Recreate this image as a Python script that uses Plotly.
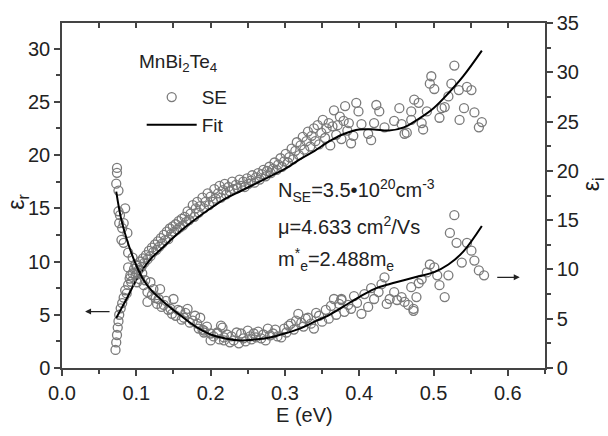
import plotly.graph_objects as go

# ---- Fit curves ----
E_fit_r = [0.073, 0.08, 0.09, 0.10, 0.11, 0.12, 0.14, 0.16, 0.18, 0.20, 0.22, 0.24, 0.26, 0.28, 0.30,
           0.32, 0.34, 0.36, 0.38, 0.40, 0.42, 0.44, 0.46, 0.48, 0.50, 0.52, 0.54, 0.565]
eps_r_fit = [4.7, 5.6, 6.9, 8.3, 9.4, 10.3, 11.6, 12.9, 14.0, 15.0, 15.9, 16.6, 17.3, 18.0, 18.7,
             19.6, 20.4, 21.3, 22.0, 22.4, 22.4, 22.3, 22.6, 23.4, 24.4, 25.8, 27.4, 29.8]

E_fit_i = [0.073, 0.08, 0.09, 0.10, 0.11, 0.12, 0.14, 0.16, 0.18, 0.20, 0.22, 0.24, 0.26, 0.28, 0.30,
           0.32, 0.34, 0.36, 0.38, 0.40, 0.42, 0.44, 0.46, 0.48, 0.50, 0.52, 0.54, 0.565]
eps_i_fit = [17.9, 15.0, 12.4, 10.4, 8.9, 7.9, 6.5, 5.3, 4.2, 3.4, 3.0, 2.8, 2.9, 3.1, 3.5,
             4.0, 4.7, 5.4, 6.3, 7.2, 8.0, 8.5, 8.9, 9.3, 9.7, 10.5, 11.8, 14.4]

# ---- SE data ----
E_se_r = [0.072, 0.073, 0.074, 0.075, 0.076, 0.077, 0.079, 0.081, 0.083, 0.085, 0.087, 0.089, 0.091, 0.093,
          0.095, 0.097, 0.099, 0.101, 0.103, 0.105, 0.107, 0.109, 0.111, 0.113, 0.115, 0.117, 0.119, 0.121,
          0.123, 0.125, 0.127, 0.129, 0.131, 0.133, 0.135, 0.137, 0.139, 0.141, 0.143, 0.145, 0.147, 0.149,
          0.151, 0.153, 0.155, 0.157, 0.159, 0.161, 0.163, 0.165, 0.167, 0.169, 0.171, 0.173, 0.176, 0.178,
          0.180, 0.182, 0.184, 0.186, 0.189, 0.191, 0.193, 0.196, 0.198, 0.200, 0.203, 0.205, 0.207, 0.210,
          0.212, 0.214, 0.217, 0.219, 0.221, 0.224, 0.226, 0.229, 0.231, 0.234, 0.236, 0.239, 0.241, 0.244,
          0.246, 0.249, 0.251, 0.254, 0.256, 0.259, 0.261, 0.264, 0.266, 0.269, 0.271, 0.274, 0.276, 0.279,
          0.281, 0.284, 0.286, 0.289, 0.291, 0.294, 0.296, 0.299, 0.301, 0.304, 0.306, 0.309, 0.311, 0.314,
          0.316, 0.319, 0.321, 0.324, 0.326, 0.329, 0.331, 0.334, 0.336, 0.339, 0.341, 0.344, 0.346, 0.349,
          0.351, 0.354, 0.356, 0.359, 0.361, 0.364, 0.366, 0.369, 0.371, 0.374, 0.376, 0.379, 0.381, 0.384,
          0.386, 0.389, 0.392, 0.396, 0.399, 0.403, 0.412, 0.416, 0.420, 0.423, 0.427, 0.434, 0.447, 0.454,
          0.457, 0.461, 0.464, 0.470, 0.470, 0.474, 0.480, 0.484, 0.486, 0.491, 0.495, 0.497, 0.501, 0.508,
          0.511, 0.515, 0.520, 0.524, 0.528, 0.534, 0.535, 0.541, 0.545, 0.551, 0.555, 0.561, 0.565]
eps_r_se = [1.7, 2.4, 3.1, 3.8, 4.4, 5.0, 5.6, 6.1, 6.6, 7.3, 7.0, 7.8, 8.4, 8.1,
            8.9, 9.3, 8.7, 9.6, 9.2, 10.0, 9.5, 10.3, 9.9, 10.6, 10.2, 11.0, 10.5, 11.3,
            10.9, 11.6, 11.1, 11.9, 11.4, 12.2, 11.7, 12.5, 12.0, 12.8, 12.1, 13.1, 12.6, 13.3,
            12.8, 13.5, 13.0, 13.8, 13.2, 14.0, 13.4, 14.2, 13.7, 14.7, 13.9, 14.5, 15.3, 14.2,
            15.0, 15.6, 14.6, 15.2, 16.0, 15.0, 15.6, 16.4, 15.3, 16.1, 15.6, 16.8, 15.9, 16.4,
            17.1, 16.0, 16.7, 17.3, 16.3, 17.0, 16.6, 17.5, 16.8, 17.2, 16.9, 17.7, 17.1, 17.5,
            17.0, 17.8, 17.3, 17.6, 18.1, 17.4, 17.9, 18.3, 17.7, 18.2, 18.6, 18.0, 18.5, 18.9,
            18.3, 18.7, 19.3, 18.6, 19.1, 19.7, 18.9, 19.4, 20.1, 19.3, 19.8, 20.6, 19.6, 20.4,
            21.2, 20.0, 20.9, 21.7, 20.5, 21.3, 22.2, 20.8, 21.8, 22.5, 21.3, 22.8, 21.0, 22.1,
            23.3, 21.6, 22.5, 23.0, 20.9, 22.7, 24.2, 21.9, 22.8, 23.6, 21.5, 23.2, 24.6, 22.3,
            23.0, 21.1, 21.8, 24.9, 24.1, 22.9, 22.0, 21.4, 23.0, 24.7, 24.1, 22.6, 23.2, 24.4,
            22.9, 22.0, 22.1, 24.1, 23.3, 25.2, 24.9, 23.0, 22.4, 24.1, 26.7, 27.4, 26.2, 23.5,
            24.4, 24.5, 25.5, 26.7, 28.4, 26.1, 23.3, 24.4, 26.4, 26.1, 24.0, 22.6, 23.1]

E_se_i = [0.073, 0.074, 0.074, 0.076, 0.076, 0.077, 0.078, 0.080, 0.081, 0.083, 0.083, 0.085, 0.088, 0.089,
          0.089, 0.092, 0.095, 0.099, 0.101, 0.101, 0.105, 0.108, 0.110, 0.112, 0.115, 0.115, 0.119, 0.121,
          0.123, 0.126, 0.128, 0.130, 0.132, 0.134, 0.137, 0.140, 0.143, 0.146, 0.148, 0.150, 0.153, 0.156,
          0.159, 0.161, 0.164, 0.166, 0.169, 0.172, 0.176, 0.179, 0.182, 0.184, 0.186, 0.189, 0.191, 0.191,
          0.195, 0.200, 0.200, 0.204, 0.209, 0.209, 0.212, 0.214, 0.216, 0.218, 0.218, 0.222, 0.226, 0.228,
          0.231, 0.235, 0.238, 0.241, 0.244, 0.247, 0.250, 0.253, 0.255, 0.258, 0.261, 0.264, 0.268, 0.271,
          0.274, 0.277, 0.280, 0.284, 0.287, 0.290, 0.295, 0.299, 0.302, 0.305, 0.308, 0.312, 0.315, 0.318,
          0.322, 0.325, 0.328, 0.331, 0.335, 0.339, 0.342, 0.346, 0.350, 0.355, 0.359, 0.362, 0.366, 0.369,
          0.373, 0.376, 0.376, 0.380, 0.385, 0.389, 0.393, 0.397, 0.403, 0.407, 0.412, 0.416, 0.420, 0.426,
          0.430, 0.434, 0.437, 0.441, 0.447, 0.451, 0.457, 0.461, 0.466, 0.470, 0.473, 0.473, 0.477, 0.480,
          0.484, 0.491, 0.495, 0.501, 0.505, 0.508, 0.515, 0.520, 0.522, 0.528, 0.531, 0.538, 0.545, 0.551,
          0.555, 0.561, 0.568]
eps_i_se = [18.7, 20.3, 19.8, 18.0, 15.9, 14.7, 15.5, 13.0, 14.2, 14.7, 12.7, 16.2, 13.7, 11.7,
            10.2, 9.4, 11.2, 10.5, 9.7, 8.7, 9.0, 9.6, 8.4, 8.9, 7.7, 6.7, 8.7, 7.4,
            8.0, 7.1, 6.5, 7.0, 8.0, 6.2, 6.4, 6.8, 5.9, 6.0, 5.5, 7.0, 5.3, 5.9,
            5.8, 4.9, 5.1, 5.6, 6.0, 4.6, 4.8, 5.3, 4.5, 4.0, 5.1, 3.9, 3.8, 3.6,
            4.2, 3.5, 2.8, 3.2, 3.6, 3.5, 2.9, 4.3, 4.1, 3.1, 2.8, 3.4, 2.6, 3.2,
            2.8, 3.6, 2.5, 3.5, 3.0, 2.7, 3.8, 3.2, 2.9, 3.5, 3.1, 3.7, 3.0, 3.4,
            2.8, 4.0, 3.3, 3.5, 3.9, 3.2, 3.1, 4.0, 3.6, 4.3, 4.5, 3.9, 4.8, 5.5,
            4.6, 4.2, 5.0, 5.1, 4.5, 4.0, 5.6, 5.3, 4.7, 5.9, 5.0, 6.3, 7.0, 5.4,
            6.5, 7.0, 6.9, 5.7, 6.4, 6.0, 7.3, 6.6, 5.5, 7.5, 6.2, 8.1, 7.0, 7.7,
            8.5, 9.2, 6.5, 7.0, 7.7, 6.9, 7.2, 6.7, 6.4, 8.2, 5.8, 6.0, 7.2, 8.6,
            9.0, 9.7, 10.5, 10.2, 9.4, 8.4, 7.2, 9.4, 13.7, 15.5, 12.7, 10.7, 12.7, 11.9,
            10.9, 9.9, 9.4]

x_ticks = [0.0, 0.1, 0.2, 0.3, 0.4, 0.5, 0.6]
yl_ticks = [0, 5, 10, 15, 20, 25, 30]
yr_ticks = [0, 5, 10, 15, 20, 25, 30, 35]

FONT = "Liberation Sans, Arial, sans-serif"
TXT = "#222222"
AX = "#444444"
MK = dict(symbol="circle-open", size=9, color="#7a7a7a", line=dict(width=1.3))

fig = go.Figure()
fig.add_trace(go.Scatter(x=E_se_r, y=eps_r_se, mode="markers", marker=MK, name="SE",
                         legendgroup="a", yaxis="y"))
fig.add_trace(go.Scatter(x=E_se_i, y=eps_i_se, mode="markers", marker=MK, name="SE",
                         showlegend=False, yaxis="y2"))
fig.add_trace(go.Scatter(x=E_fit_r, y=eps_r_fit, mode="lines", line=dict(color="black", width=2, shape="spline"),
                         name="Fit", legendgroup="b", yaxis="y"))
fig.add_trace(go.Scatter(x=E_fit_i, y=eps_i_fit, mode="lines", line=dict(color="black", width=2, shape="spline"),
                         name="Fit", showlegend=False, yaxis="y2"))
# dummy trace to activate top axis
fig.add_trace(go.Scatter(x=[None], y=[None], xaxis="x2", yaxis="y", showlegend=False))

common_tick = dict(tickfont=dict(family=FONT, size=20, color=TXT), linecolor=AX, linewidth=1.5,
                   tickcolor=AX, tickwidth=1.5, showgrid=False, zeroline=False)

fig.update_layout(
    width=608, height=436,
    margin=dict(l=62, r=63, t=15, b=68),
    paper_bgcolor="white", plot_bgcolor="white",
    font=dict(family=FONT, size=18, color=TXT),
    xaxis=dict(range=[0, 0.65], tickvals=x_ticks, ticktext=[f"{v:.1f}" for v in x_ticks],
               ticks="outside", ticklen=6, showline=True,
               minor=dict(dtick=0.05, tick0=0, ticks="outside", ticklen=4, tickcolor=AX, tickwidth=1.5),
               **common_tick),
    xaxis2=dict(range=[0, 0.65], overlaying="x", side="top", anchor="y", showticklabels=False,
                ticks="inside", ticklen=5, dtick=0.05, tick0=0, showline=True, **common_tick),
    yaxis=dict(range=[0, 32.4], tickvals=yl_ticks, ticks="outside", ticklen=6, showline=True,
               minor=dict(dtick=2.5, tick0=0, ticks="outside", ticklen=4, tickcolor=AX, tickwidth=1.5),
               **common_tick),
    yaxis2=dict(range=[0, 35], tickvals=yr_ticks, overlaying="y", side="right", anchor="x",
                ticks="outside", ticklen=6, showline=True,
                minor=dict(dtick=2.5, tick0=0, ticks="outside", ticklen=4, tickcolor=AX, tickwidth=1.5),
                **common_tick),
    showlegend=True,
    legend=dict(x=0.165, y=0.84, xanchor="left", yanchor="top", bgcolor="rgba(0,0,0,0)",
                font=dict(family=FONT, size=19, color=TXT), tracegroupgap=0, itemwidth=50),
)

def px(xp):
    return (xp - 62) / (545 - 62)
def py(yp):
    return (368 - yp) / (368 - 15)

annotations = [
    dict(text="MnBi<sub>2</sub>Te<sub>4</sub>", x=px(137), y=py(56), xanchor="left", yanchor="middle", font=dict(size=19)),
    dict(text="E (eV)", x=px(304), y=py(416), xanchor="center", yanchor="middle", font=dict(size=20)),
    dict(text="ε<sub>r</sub>", x=px(18), y=py(198), xanchor="center", yanchor="middle", textangle=-90, font=dict(size=23)),
    dict(text="ε<sub>i</sub>", x=px(592), y=py(180), xanchor="center", yanchor="middle", textangle=-90, font=dict(size=23)),
    dict(text="N<sub>SE</sub>=3.5•10<sup>20</sup>cm<sup>-3</sup>", x=px(276), y=py(186), xanchor="left", yanchor="middle", font=dict(size=20)),
    dict(text="μ=4.633 cm<sup>2</sup>/Vs", x=px(276), y=py(222), xanchor="left", yanchor="middle", font=dict(size=20)),
    dict(text="m<sup>*</sup><sub>e</sub>=2.488m<sub>e</sub>", x=px(276), y=py(257), xanchor="left", yanchor="middle", font=dict(size=20)),
]
for a in annotations:
    a.update(xref="paper", yref="paper", showarrow=False)
    a["font"].update(family=FONT, color=TXT)

# arrows indicating axis association
annotations.append(dict(x=0.031, y=5.3, xref="x", yref="y", ax=26, ay=0, text="", showarrow=True,
                        arrowhead=2, arrowsize=1, arrowwidth=1.2, arrowcolor="#222"))
annotations.append(dict(x=0.616, y=9.2, xref="x", yref="y2", ax=-24, ay=0, text="", showarrow=True,
                        arrowhead=2, arrowsize=1, arrowwidth=1.2, arrowcolor="#222"))
fig.update_layout(annotations=annotations)

fig.write_html("out.html")
